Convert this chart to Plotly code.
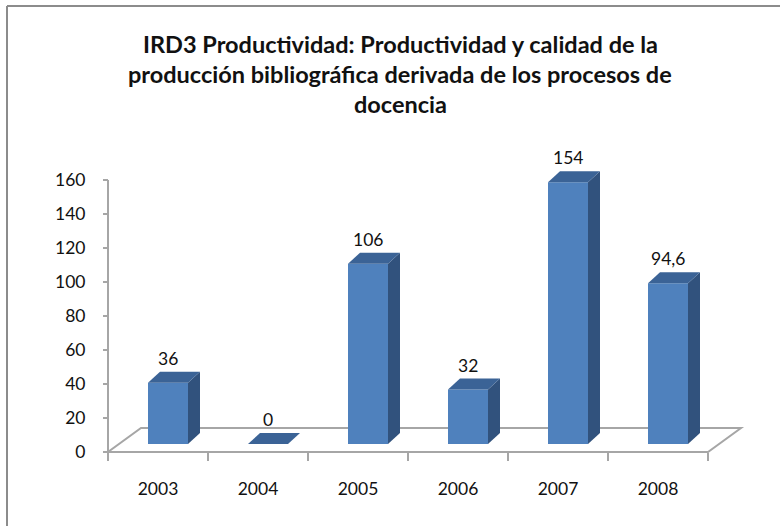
import plotly.graph_objects as go

# ---- data ----
years = ["2003", "2004", "2005", "2006", "2007", "2008"]
values = [36, 0, 106, 32, 154, 94.6]
y_ticks = [0, 20, 40, 60, 80, 100, 120, 140, 160]
title_lines = [
    "IRD3 Productividad: Productividad y calidad de la",
    "producción bibliográfica derivada de los procesos de",
    "docencia",
]

# ---- geometry / style ----
W, H = 780, 526
ML, MR, MT, MB = 98, 30, 150, 68
XR = [-0.6, 5.92]
YR = [-3.53, 177.65]
BASE = 4.7             # bar base sits a little behind the floor front edge
DX, DY = 0.12, 6.5     # bar depth offset
FDX, FDY = 0.33, 14.1  # floor depth
FRONT = "#4F81BD"
SIDE = "#31527D"
TOP = "#3B6396"
GRID = "#A6A6A6"
FONT = "Lato"
TXT = "#111111"


def fmt(v):
    return str(int(v)) if float(v).is_integer() else str(v).replace(".", ",")


def px_x(px):
    return (px - ML) / (W - ML - MR)


def px_y(py):
    return (H - MB - py) / (H - MT - MB)


xs = list(range(len(years)))

fig = go.Figure()
fig.add_trace(go.Bar(
    x=xs, y=values, base=[BASE] * len(values), width=0.4, offset=-0.1,
    marker=dict(color=FRONT, line=dict(width=0)), showlegend=False,
    hoverinfo="skip",
))

shapes = []
# floor
shapes.append(dict(
    type="path", xref="x", yref="y", layer="below",
    path=f"M -0.5,0 L 5.5,0 L {5.5+FDX},{FDY} L {-0.5+FDX},{FDY} Z",
    line=dict(color=GRID, width=2), fillcolor="white",
))
# y axis line
shapes.append(dict(type="line", xref="x", yref="y", x0=-0.5, x1=-0.5,
                   y0=0, y1=y_ticks[-1], line=dict(color=GRID, width=2), layer="below"))

annotations = []
for i, v in zip(xs, values):
    l, r = i - 0.1, i + 0.3
    b, t = BASE, BASE + v
    if v > 0:
        shapes.append(dict(
            type="path", xref="x", yref="y", layer="above",
            path=f"M {r},{b} L {r+DX},{b+DY} L {r+DX},{t+DY} L {r},{t} Z",
            fillcolor=SIDE, line=dict(width=0),
        ))
    shapes.append(dict(
        type="path", xref="x", yref="y", layer="above",
        path=f"M {l},{t} L {l+DX},{t+DY} L {r+DX},{t+DY} L {r},{t} Z",
        fillcolor=TOP, line=dict(width=0),
    ))
    annotations.append(dict(
        x=i + 0.1, y=t + DY, xref="x", yref="y", text=fmt(v), showarrow=False,
        yanchor="bottom", yshift=1, font=dict(family=FONT, size=17.5, color=TXT),
    ))

# chart frame (top and left border)
shapes.append(dict(type="line", xref="paper", yref="paper", x0=px_x(7), x1=px_x(W + 5),
                   y0=px_y(6), y1=px_y(6), line=dict(color="#8C8C8C", width=2)))
shapes.append(dict(type="line", xref="paper", yref="paper", x0=px_x(7), x1=px_x(7),
                   y0=px_y(6), y1=px_y(H + 5), line=dict(color="#8C8C8C", width=2)))

# title lines
for k, line in enumerate(title_lines):
    annotations.append(dict(
        x=px_x(400), y=px_y(44 + 30 * k), xref="paper", yref="paper",
        text=f"<b>{line}</b>", showarrow=False, xanchor="center", yanchor="middle",
        font=dict(family=FONT, size=23.5, color=TXT),
    ))

fig.update_layout(
    width=W, height=H,
    margin=dict(l=ML, r=MR, t=MT, b=MB),
    paper_bgcolor="white", plot_bgcolor="rgba(0,0,0,0)",
    shapes=shapes, annotations=annotations,
    showlegend=False,
    font=dict(family=FONT, size=17.5, color=TXT),
)

fig.update_xaxes(
    range=XR, anchor="free", position=px_y(452),
    tickmode="array", tickvals=xs, ticktext=years, ticks="",
    showline=False, showgrid=False, zeroline=False,
    tickfont=dict(family=FONT, size=17.5, color=TXT),
    ticklabelstandoff=24,
    minor=dict(tickmode="array", tickvals=[i - 0.5 for i in range(len(years) + 1)],
               ticks="outside", ticklen=8, tickcolor=GRID, tickwidth=1.5, showgrid=False),
)
fig.update_yaxes(
    range=YR, anchor="free", position=px_x(108),
    tickmode="array", tickvals=y_ticks, ticks="outside", ticklen=5,
    tickcolor=GRID, tickwidth=1.5,
    showline=False, showgrid=False, zeroline=False,
    tickfont=dict(family=FONT, size=17.5, color=TXT),
    ticklabelstandoff=14,
)

fig.write_html("out.html", config={"displayModeBar": False},
               post_script="document.body.style.margin='0';")
